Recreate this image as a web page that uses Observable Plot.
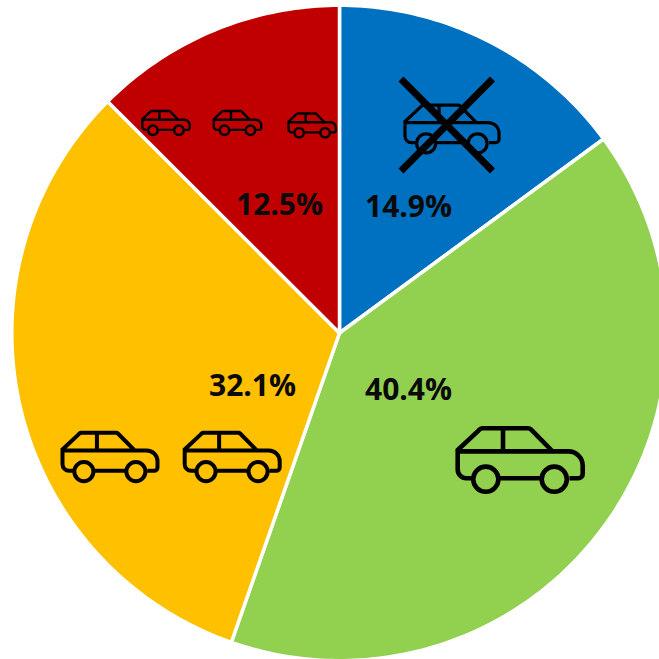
<!DOCTYPE html>
<html>
<head>
<meta charset="utf-8">
<style>html,body{margin:0;padding:0;background:#fff;overflow:hidden}svg{display:block}</style>
<script src="https://cdn.jsdelivr.net/npm/d3@7"></script>
<script src="https://cdn.jsdelivr.net/npm/@observablehq/plot@0.6"></script>
</head>
<body>
<div id="chart"></div>
<script>
const categories = ["No car", "One car", "Two cars", "Three or more cars"];
const shares = [14.9, 40.4, 32.1, 12.5];
const sliceColors = ["#0070C0", "#92D050", "#FFC000", "#C00000"];
const shareLabels = ["14.9%", "40.4%", "32.1%", "12.5%"];

const PIE_RADIUS = 327.7;
const pieAngles = d3.pie().sort(null).value(d => d)(shares);
const slicePoints = pieAngles.flatMap((arc, i) => {
  const steps = Math.ceil((arc.endAngle - arc.startAngle) * 180 / Math.PI);
  const outline = [{category: categories[i], x: 0, y: 0}];
  for (let k = 0; k <= steps; ++k) {
    const a = arc.startAngle + (arc.endAngle - arc.startAngle) * k / steps;
    outline.push({category: categories[i], x: PIE_RADIUS * Math.sin(a), y: PIE_RADIUS * Math.cos(a)});
  }
  outline.push({category: categories[i], x: 0, y: 0});
  return outline;
});

// Car outline as a Plot dot symbol; r is half of the car's width.
const carSymbol = {
  draw(c, size) {
    const r = Math.sqrt(size / Math.PI), s = r / 189;
    const X = v => (v - 239) * s, Y = v => (v - 148) * s;
    const wheel = (cx, cy, w) => {
      c.moveTo(X(cx + w), Y(cy));
      c.arc(X(cx), Y(cy), w * s, 0, 2 * Math.PI);
    };
    c.moveTo(X(96), Y(203));
    c.lineTo(X(76), Y(203));
    c.arcTo(X(50), Y(203), X(50), Y(177), 26 * s);
    c.lineTo(X(50), Y(118));
    c.lineTo(X(112), Y(60));
    c.arcTo(X(120), Y(52), X(132), Y(52), 12 * s);
    c.lineTo(X(255), Y(52));
    c.arcTo(X(268), Y(52), X(276), Y(60), 12 * s);
    c.lineTo(X(335), Y(120));
    c.moveTo(X(50), Y(122));
    c.lineTo(X(385), Y(122));
    c.arcTo(X(428), Y(122), X(428), Y(165), 43 * s);
    c.lineTo(X(428), Y(190));
    c.arcTo(X(428), Y(203), X(415), Y(203), 13 * s);
    c.lineTo(X(388), Y(203));
    c.moveTo(X(187), Y(55));
    c.lineTo(X(187), Y(122));
    c.moveTo(X(178), Y(203));
    c.lineTo(X(300), Y(203));
    wheel(135, 206, 38);
    wheel(342, 206, 38);
  }
};

const car = (x, y, r, strokeWidth) =>
  Plot.dot([{x, y}], {x: "x", y: "y", r, symbol: carSymbol, fill: "none", stroke: "#000", strokeWidth});

const chart = Plot.plot({
  width: 659, height: 659, margin: 0,
  x: {domain: [-339, 320], axis: null},
  y: {domain: [-326.5, 332.5], axis: null},
  color: {domain: categories, range: sliceColors},
  marks: [
    Plot.line(slicePoints, {x: "x", y: "y", z: "category", fill: "category", stroke: "#fff", strokeWidth: 3.5, strokeLinejoin: "round", curve: "linear"}),
    car(112.5, 204, 47, 3.2),
    Plot.link([{x1: 61.5, y1: 254, x2: 153, y2: 162}, {x1: 153, y1: 254, x2: 61.5, y2: 162}], {x1: "x1", y1: "y1", x2: "x2", y2: "y2", stroke: "#000", strokeWidth: 7}),
    car(180.7, -127, 62.5, 4.6),
    car(-229.5, -124, 47.5, 4),
    car(-107.3, -124, 47.5, 4),
    car(-173.5, 210, 23.7, 2.4),
    car(-102, 210, 23.7, 2.4),
    car(-27.3, 207.5, 23.7, 2.4),
    Plot.text([0, 1, 2, 3].map(i => ({label: shareLabels[i], x: [69, 69, -87, -60][i], y: [126, -57, -53, 128][i]})), {
      x: "x", y: "y", text: "label", fontFamily: "Open Sans", fontWeight: 700, fontSize: 30, fill: "#0a0a0a"
    })
  ]
});
document.getElementById("chart").append(chart);
</script>
</body>
</html>
